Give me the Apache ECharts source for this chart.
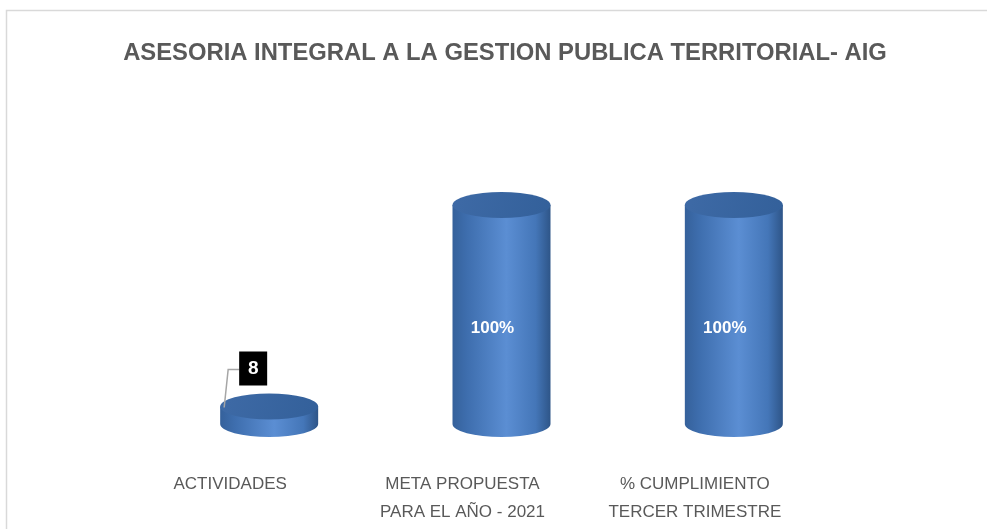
<!DOCTYPE html>
<html><head><meta charset="utf-8">
<script src="https://cdn.jsdelivr.net/npm/echarts@6/dist/echarts.min.js"></script>
<style>html,body{margin:0;padding:0;background:#fff}#c{width:987px;height:529px}</style>
</head><body><div id="c"></div>
<script>
const categories = ['ACTIVIDADES', 'META PROPUESTA\nPARA EL AÑO - 2021', '% CUMPLIMIENTO\nTERCER TRIMESTRE'];
const values = [8, 100, 100];
const valueLabels = ['8', '100%', '100%'];
const titleText = 'ASESORIA INTEGRAL A LA GESTION PUBLICA TERRITORIAL- AIG';

const chart = echarts.init(document.getElementById('c'));
const bodyGrad = new echarts.graphic.LinearGradient(0, 0, 1, 0, [
  {offset: 0, color: '#35619b'},
  {offset: 0.15, color: '#3e6eae'},
  {offset: 0.55, color: '#5b8ed3'},
  {offset: 0.85, color: '#4476b8'},
  {offset: 1, color: '#2e5588'}
]);
const topGrad = new echarts.graphic.LinearGradient(0, 0, 1, 1, [
  {offset: 0, color: '#3e6aa6'},
  {offset: 1, color: '#33609a'}
]);
function renderItem(params, api) {
  const i = api.value(0);
  const base = api.coord([i, 0]);
  const top = api.coord([i, api.value(1)]);
  const cx = base[0] + 39;
  const rx = 49, ry = 13;
  const by = base[1], ty = top[1];
  const body = 'M' + (cx - rx) + ' ' + ty + ' L' + (cx - rx) + ' ' + by +
    ' A' + rx + ' ' + ry + ' 0 0 0 ' + (cx + rx) + ' ' + by +
    ' L' + (cx + rx) + ' ' + ty + ' Z';
  const cap = 'M' + (cx - rx) + ' ' + ty + ' A' + rx + ' ' + ry + ' 0 1 1 ' + (cx + rx) + ' ' + ty +
    ' A' + rx + ' ' + ry + ' 0 1 1 ' + (cx - rx) + ' ' + ty + ' Z';
  const children = [
    {type: 'path', shape: {pathData: body}, style: {fill: bodyGrad}},
    {type: 'path', shape: {pathData: cap}, style: {fill: topGrad}}
  ];
  const lbl = valueLabels[params.dataIndex];
  if (api.value(1) > 50) {
    children.push({type: 'text', style: {text: lbl, x: cx - 9, y: (ty + by) / 2 + 14, align: 'center', verticalAlign: 'middle',
      fill: '#ffffff', font: 'bold 17px "Liberation Sans", Arial, sans-serif'}});
  } else {
    const lx = cx - 16, ly = ty - 38;
    children.push({type: 'polyline', shape: {points: [[lx - 14, ly + 1], [cx - 41, ly + 1], [cx - 45, ty + 1]]},
      style: {stroke: '#a6a6a6', lineWidth: 1.5, fill: null}});
    children.push({type: 'rect', shape: {x: lx - 14, y: ly - 17, width: 28, height: 34}, style: {fill: '#000'}});
    children.push({type: 'text', style: {text: lbl, x: lx, y: ly, align: 'center', verticalAlign: 'middle',
      fill: '#ffffff', font: 'bold 19px "Liberation Sans", Arial, sans-serif'}});
  }
  return {type: 'group', children};
}
chart.setOption({
  animation: false,
  title: {text: titleText, left: 500, top: 36, textAlign: 'center',
    textStyle: {fontFamily: '"Liberation Sans", Arial, sans-serif', fontWeight: 'bold', fontSize: 23.8, color: '#595959'}},
  graphic: [{type: 'polyline', shape: {points: [[6.5, 540], [6.5, 10.5], [1000, 10.5]]},
    style: {stroke: '#d9d9d9', lineWidth: 1.5, fill: null}, silent: true}],
  grid: {left: 114, right: 176, top: 205, bottom: 105},
  xAxis: {type: 'category', data: categories, axisLine: {show: false}, axisTick: {show: false},
    axisLabel: {margin: 46, fontFamily: '"Liberation Sans", Arial, sans-serif', fontSize: 17, color: '#595959', lineHeight: 28, verticalAlign: 'top'}},
  yAxis: {type: 'value', min: 0, max: 100, show: false},
  series: [{type: 'custom', renderItem: renderItem, data: values.map((v, i) => [i, v]), clip: false}]
});
</script></body></html>
